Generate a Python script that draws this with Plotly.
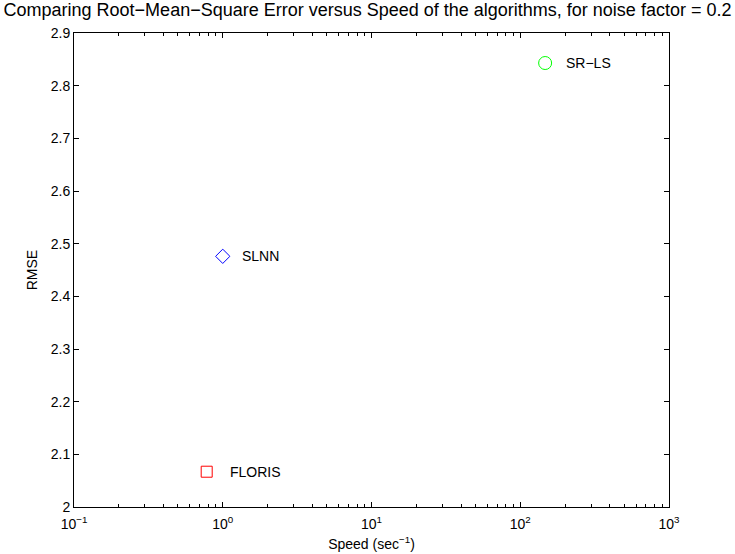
import math
import plotly.graph_objects as go

# Data
algorithms = ["FLORIS", "SLNN", "SR−LS"]
speed = [0.78, 1.0, 147.0]          # sec^-1
rmse = [2.067, 2.476, 2.843]

x_tick_vals = [0.1, 1, 10, 100, 1000]
x_tick_text = ["10<sup>−1</sup>", "10<sup>0</sup>", "10<sup>1</sup>", "10<sup>2</sup>", "10<sup>3</sup>"]
y_tick_vals = [2.0, 2.1, 2.2, 2.3, 2.4, 2.5, 2.6, 2.7, 2.8, 2.9]
y_tick_text = ["2", "2.1", "2.2", "2.3", "2.4", "2.5", "2.6", "2.7", "2.8", "2.9"]

colors = ["#ff0000", "#0000ff", "#00ff00"]
symbols = ["square-open", "diamond-open", "circle-open"]
sizes = [11, 11, 13]
label_shift = [21, 17, 19]

minor_vals = [m * 10 ** e for e in range(-1, 3) for m in range(2, 10)]

FONT = "Liberation Sans, Arial, Helvetica, sans-serif"

fig = go.Figure()
for name, sx, ry, c, s, sz, sh in zip(algorithms, speed, rmse, colors, symbols, sizes, label_shift):
    fig.add_trace(go.Scatter(
        x=[sx], y=[ry], mode="markers",
        marker=dict(symbol=s, size=sz, color=c, line=dict(color=c, width=1)),
        showlegend=False, hoverinfo="skip",
    ))
    fig.add_annotation(
        x=math.log10(sx), y=ry, xref="x", yref="y", text=name, showarrow=False,
        xanchor="left", yanchor="middle", xshift=sh,
        font=dict(family=FONT, size=14, color="#000000"),
    )

axis_common = dict(
    showline=True, linecolor="#000000", linewidth=1, mirror="ticks",
    ticks="inside", ticklen=5, tickwidth=1, tickcolor="#000000",
    showgrid=False, zeroline=False, automargin=False,
    tickfont=dict(family=FONT, size=14, color="#000000"),
)

fig.update_xaxes(
    type="log", range=[-1, 3],
    tickmode="array", tickvals=x_tick_vals, ticktext=x_tick_text,
    ticklabelstandoff=4,
    minor=dict(tickmode="array", tickvals=minor_vals, ticks="inside", ticklen=3,
               tickcolor="#000000", tickwidth=1, showgrid=False),
    title=dict(text="Speed (sec<sup>−1</sup>)", font=dict(family=FONT, size=14, color="#000000"), standoff=8),
    **axis_common,
)
fig.update_yaxes(
    range=[2.0, 2.9],
    tickmode="array", tickvals=y_tick_vals, ticktext=y_tick_text,
    title=dict(text="RMSE", font=dict(family=FONT, size=14, color="#000000"), standoff=9),
    **axis_common,
)

fig.update_layout(
    width=735, height=554,
    margin=dict(l=74, r=66, t=33, b=47),
    paper_bgcolor="#ffffff", plot_bgcolor="#ffffff",
    font=dict(family=FONT, size=14, color="#000000"),
    title=dict(
        text="Comparing Root−Mean−Square Error versus Speed of the algorithms, for noise factor = 0.2",
        x=0.5, xanchor="center", xref="container",
        y=1 - 10 / 554, yanchor="middle", yref="container",
        font=dict(family=FONT, size=18, color="#000000"),
    ),
)

fig.write_html("out.html")
